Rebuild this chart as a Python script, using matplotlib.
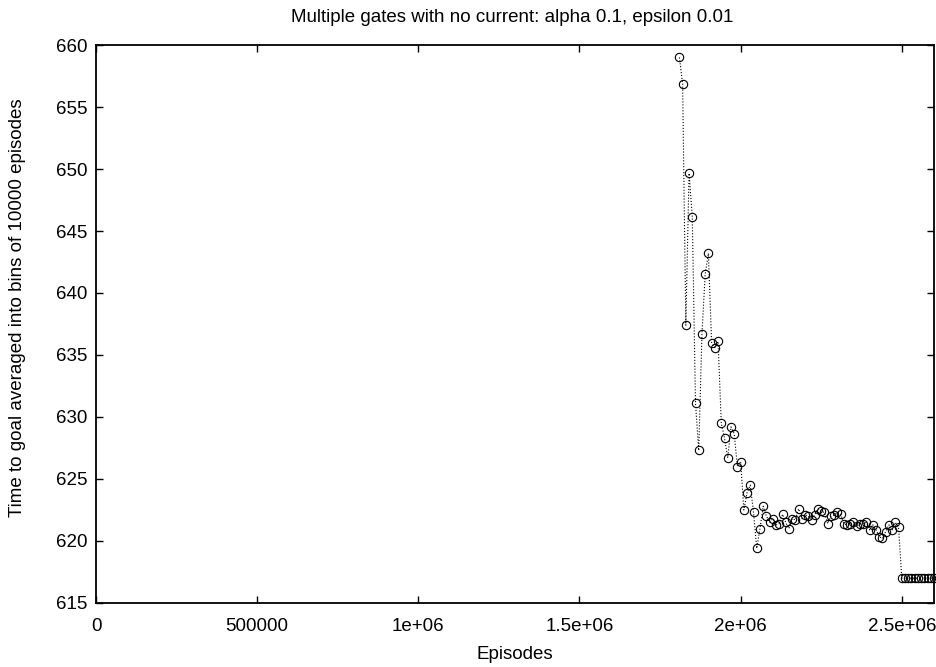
import numpy as np
import matplotlib
matplotlib.use('Agg')
import matplotlib.pyplot as plt

plt.rcParams['font.family'] = ['Liberation Sans', 'DejaVu Sans']

# episodes (bin start) and mean time to goal per bin of 10000 episodes
episodes = np.arange(1810000, 2600001, 10000)
time_to_goal = [
    659.0, 656.85, 637.4, 649.65, 646.15, 631.1, 627.3, 636.7, 641.5, 643.2,
    636.0, 635.6, 636.1, 629.5, 628.3, 626.7, 629.2, 628.65, 626.0, 626.4,
    622.5, 623.9, 624.5, 622.3, 619.4, 621.0, 622.8, 622.0, 621.5, 621.8,
    621.3, 621.4, 622.15, 621.5, 621.0, 621.8, 621.7, 622.6, 621.8, 622.1,
    622.0, 621.7, 622.1, 622.6, 622.4, 622.3, 621.4, 622.0, 622.1, 622.3,
    622.2, 621.4, 621.3, 621.4, 621.5, 621.2, 621.4, 621.4, 621.5, 620.9,
    621.3, 620.9, 620.35, 620.2, 620.75, 621.3, 620.9, 621.5, 621.1,
    617.0, 617.0, 617.0, 617.0, 617.0, 617.0, 617.0, 617.0, 617.0, 617.0, 617.0,
]

title = 'Multiple gates with no current: alpha 0.1, epsilon 0.01'
x_label = 'Episodes'
y_label = 'Time to goal averaged into bins of 10000 episodes'
x_ticks = [0, 500000, 1000000, 1500000, 2000000, 2500000]
x_tick_labels = ['0', '500000', '1e+06', '1.5e+06', '2e+06', '2.5e+06']
y_ticks = [615, 620, 625, 630, 635, 640, 645, 650, 655, 660]

fs = 13.5  # 字号

fig = plt.figure(figsize=(9.37, 6.67), dpi=100)
ax = fig.add_axes([0.1025, 0.096, 0.8943, 0.8365])

ax.plot(episodes, time_to_goal, color='black', linestyle=':', linewidth=0.8,
        marker='o', markersize=6, markerfacecolor='none', markeredgecolor='black',
        markeredgewidth=0.8, clip_on=False)

ax.set_xlim(0, 2600000)
ax.set_ylim(615, 660)
ax.set_xticks(x_ticks)
ax.set_xticklabels(x_tick_labels)
ax.set_yticks(y_ticks)
ax.tick_params(direction='in', length=5, width=1, top=True, right=True,
               labelsize=fs)
ax.tick_params(axis='x', pad=10.5)
ax.tick_params(axis='y', pad=6.5)
for sp in ax.spines.values():
    sp.set_linewidth(1.3)

fig.text(0.547, 1 - 17 / 667, title, fontsize=fs, ha='center', va='center')
ax.set_xlabel(x_label, fontsize=fs, labelpad=8)
ax.set_ylabel(y_label, fontsize=fs)
ax.yaxis.set_label_coords(-0.084, 0.53)

plt.savefig('out.png', dpi=100)
plt.close()
